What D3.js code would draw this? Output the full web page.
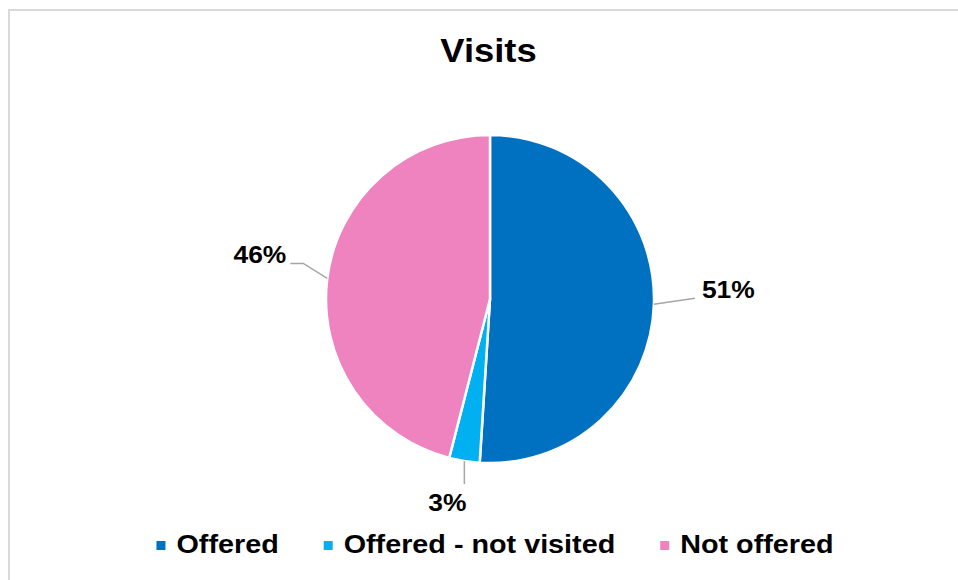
<!DOCTYPE html>
<html>
<head>
<meta charset="utf-8">
<script src="https://cdn.jsdelivr.net/npm/d3@7"></script>
<style>
  html, body { margin: 0; padding: 0; background: #fff; }
  svg { display: block; }
  text { font-family: "Liberation Sans", Arial, sans-serif; font-weight: bold; fill: #000; }
</style>
</head>
<body>
<svg id="chart" width="958" height="580"></svg>
<script>
const title = "Visits";
const categories = ["Offered", "Offered - not visited", "Not offered"];
const values = [51, 3, 46];
const colors = ["#0070C0", "#00B0F0", "#EE83BF"];

const W = 958, H = 580;
const cx = 490, cy = 299, R = 164;

const svg = d3.select("#chart");

// outer border
svg.append("rect")
  .attr("x", 9).attr("y", 10)
  .attr("width", W + 20).attr("height", H + 20)
  .attr("fill", "none").attr("stroke", "#d9d9d9").attr("stroke-width", 2);

// title
svg.append("g")
  .attr("transform", `translate(${488.5},62) scale(1.07,1)`)
  .append("text")
  .attr("text-anchor", "middle")
  .attr("font-size", 34)
  .text(title);

const data = categories.map((c, i) => ({ name: c, value: values[i], color: colors[i] }));
const pie = d3.pie().sort(null).value(d => d.value);
const arcs = pie(data);
const arc = d3.arc().innerRadius(0).outerRadius(R);

const g = svg.append("g").attr("transform", `translate(${cx},${cy})`);
g.selectAll("path.slice")
  .data(arcs)
  .join("path")
  .attr("class", "slice")
  .attr("d", arc)
  .attr("fill", d => d.data.color)
  .attr("stroke", "#fff")
  .attr("stroke-width", 2.5)
  .attr("stroke-linejoin", "round");

// labels with leader lines
const pctFmt = d => Math.round(d.data.value) + "%";
function edgePoint(d, r) {
  const a = (d.startAngle + d.endAngle) / 2;
  return [r * Math.sin(a), -r * Math.cos(a)];
}
const leaders = [
  { dx: 41, dy: -6, hx: 0, anchor: "start", tdx: 7, tdy: 0 },
  { dx: 0, dy: 23, hx: 0, anchor: "middle", tdx: -17, tdy: 27 },
  { dx: -24, dy: -15, hx: -13, anchor: "end", tdx: -4, tdy: 0 }
];
arcs.forEach((d, i) => {
  const [x0, y0] = edgePoint(d, R);
  const L = leaders[i];
  const x1 = x0 + L.dx, y1 = y0 + L.dy;
  const x2 = x1 + L.hx, y2 = y1;
  g.append("polyline")
    .attr("points", [[x0, y0], [x1, y1], [x2, y2]].map(p => p.join(",")).join(" "))
    .attr("fill", "none")
    .attr("stroke", "#a6a6a6")
    .attr("stroke-width", 1.5);
  g.append("g")
    .attr("transform", `translate(${x2 + L.tdx},${y2 + L.tdy}) scale(1.1,1)`)
    .append("text")
    .attr("text-anchor", L.anchor)
    .attr("font-size", 24)
    .text(pctFmt(d));
});

// legend
const legend = svg.append("g");
const sx = 1.15, fs = 25, sq = 9, gapSq = 11, gapItem = 45, baseY = 553;
const items = legend.selectAll("g.item").data(data).join("g").attr("class", "item");
items.append("rect")
  .attr("width", sq).attr("height", sq)
  .attr("y", -12)
  .attr("fill", d => d.color);
const txtG = items.append("g").attr("transform", `translate(${sq + gapSq},0) scale(${sx},1)`);
txtG.append("text").attr("font-size", fs).text(d => d.name);
let widths = [];
txtG.select("text").each(function () { widths.push(this.getComputedTextLength() * sx); });
const itemW = widths.map(w => sq + gapSq + w);
const total = d3.sum(itemW) + gapItem * (itemW.length - 1);
let x = 495 - total / 2;
items.each(function (d, i) {
  d3.select(this).attr("transform", `translate(${x},${baseY})`);
  x += itemW[i] + gapItem;
});
</script>
</body>
</html>
